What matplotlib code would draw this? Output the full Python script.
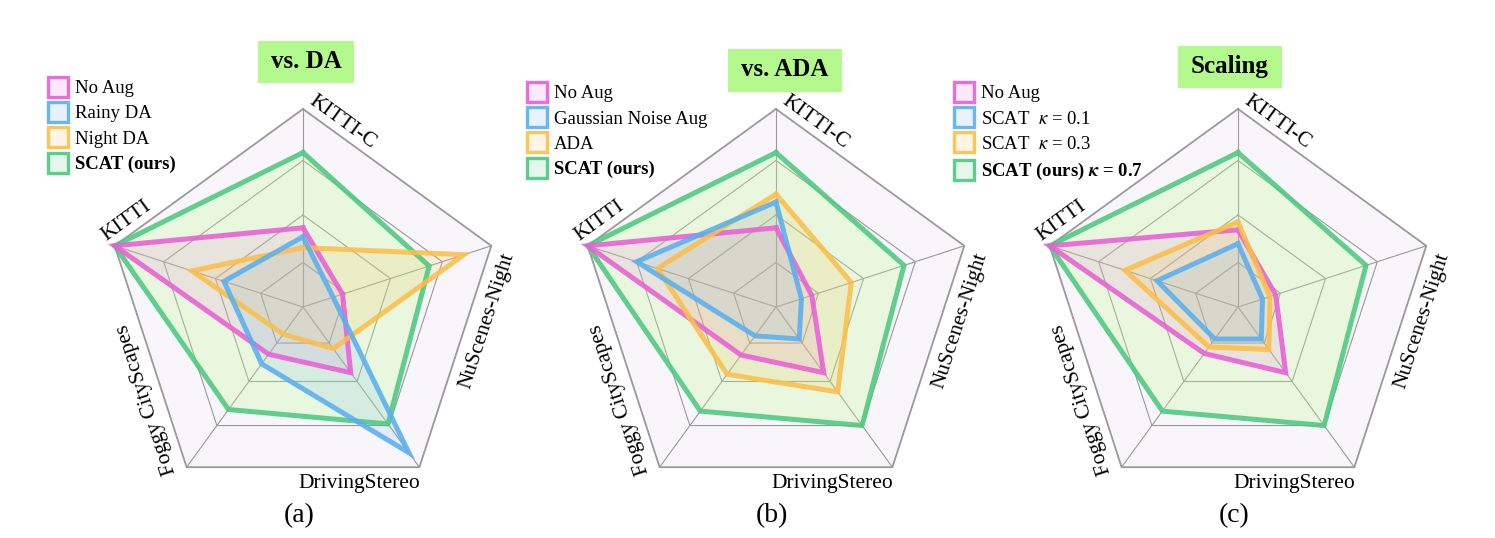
import numpy as np
import matplotlib
matplotlib.use("Agg")
import matplotlib.pyplot as plt
from matplotlib.lines import Line2D
from matplotlib.patches import Rectangle
from matplotlib.colors import to_rgba

plt.rcParams['font.family'] = ['Liberation Serif', 'DejaVu Serif']
plt.rcParams['mathtext.fontset'] = 'stix'

# axis order goes counter-clockwise starting at the top
axis_names = ["KITTI-C", "KITTI", "Foggy CityScapes", "DrivingStereo", "NuScenes-Night"]
axis_angles = [90, 162, 234, 306, 18]
ring_levels = [0.225, 0.465, 0.74, 1.0]

# normalised scores (fraction of the outer ring), same order as axis_names
# (a) vs. DA
noaug_a = [0.40, 1.0, 0.295, 0.41, 0.21]
rainy_a = [0.355, 0.42, 0.355, 0.91, 0.16]
night_a = [0.30, 0.59, 0.17, 0.26, 0.855]
scat_a = [0.78, 1.0, 0.64, 0.73, 0.67]
# (b) vs. ADA
noaug_b = [0.40, 1.0, 0.30, 0.41, 0.19]
gauss_b = [0.53, 0.74, 0.18, 0.20, 0.135]
ada_b = [0.57, 0.63, 0.42, 0.53, 0.40]
scat_b = [0.78, 1.0, 0.65, 0.74, 0.68]
# (c) scaling
noaug_c = [0.39, 1.0, 0.29, 0.41, 0.20]
k01_c = [0.32, 0.43, 0.20, 0.20, 0.13]
k03_c = [0.43, 0.60, 0.25, 0.265, 0.17]
scat_c = [0.78, 1.0, 0.65, 0.74, 0.68]

PINK = "#e95fd6"
BLUE = "#5aaff0"
ORANGE = "#fcbf4a"
GREEN = "#4cc97f"
# fill colours (green area in the original is a light yellow-green)
FILLS = {PINK: (PINK, 0.13), BLUE: (BLUE, 0.13), ORANGE: (ORANGE, 0.15), GREEN: ("#bdfb90", 0.27)}

W, H = 1495, 538
R = 198.0  # outer radius in pixels
CY = 307   # radar centre, pixels from top

fig = plt.figure(figsize=(W / 100, H / 100), dpi=100)


def px_rect(x0, y0, w, h):
    # pixel box (from top-left) -> figure fraction
    return [x0 / W, 1 - (y0 + h) / H, w / W, h / H]


def polar_xy(vals):
    th = np.deg2rad(axis_angles)
    v = np.asarray(vals)
    x = v * np.cos(th)
    y = v * np.sin(th)
    return np.append(x, x[0]), np.append(y, y[0])


def draw_radar(cx, series, panel):
    ax = fig.add_axes(px_rect(cx - 260, 0, 520, H))
    ax.set_xlim(-260 / R, 260 / R)
    ax.set_ylim(-(H - CY) / R, CY / R)
    ax.axis('off')

    ox, oy = polar_xy([1.0] * 5)
    ax.fill(ox, oy, color="#f8f6fb", zorder=0)
    for lv in ring_levels:
        gx, gy = polar_xy([lv] * 5)
        ax.plot(gx, gy, color="#9a9a9a", lw=1.3 if lv == 1.0 else 0.8, zorder=1)
    for a in axis_angles:
        t = np.deg2rad(a)
        ax.plot([0, np.cos(t)], [0, np.sin(t)], color="#9a9a9a", lw=0.8, zorder=1)

    for z, (vals, col) in enumerate(series):
        x, y = polar_xy(vals)
        fc, fa = FILLS[col]
        ax.fill(x, y, color=fc, alpha=fa, lw=0, zorder=2 + z)
        ax.plot(x, y, color=col, alpha=0.88, lw=3.6, solid_joinstyle='miter', zorder=10 + z)

    fs = 15.5
    ax.text(0.2, 0.935, "KITTI-C", rotation=-36, ha='center', va='center', fontsize=fs)
    ax.text(-0.89, 0.435, "KITTI", rotation=36, ha='center', va='center', fontsize=fs)
    ax.text(-0.79, -0.465, "Foggy CityScapes", rotation=108, ha='center', va='center', fontsize=fs)
    ax.text(0.285, -0.89, "DrivingStereo", ha='center', va='center', fontsize=fs)
    ax.text(0.93, -0.07, "NuScenes-Night", rotation=72, ha='center', va='center', fontsize=fs)
    ax.text(-0.02, -1.055, panel, ha='center', va='center', fontsize=20)
    return ax


def title_box(cx, cy, w, h, label):
    r = px_rect(cx - w / 2, cy - h / 2, w, h)
    fig.add_artist(Rectangle((r[0], r[1]), r[2], r[3], transform=fig.transFigure,
                             facecolor="#b3f98e", edgecolor='none'))
    fig.text(cx / W, 1 - cy / H, label, ha='center', va='center', fontsize=18, fontweight='bold')


def add_legend(ax, x0, y0, labels):
    cols = [PINK, BLUE, ORANGE, GREEN]
    handles = [Line2D([], [], ls='none', marker='s', markersize=14, markeredgewidth=2.4,
                      markeredgecolor=to_rgba(c, 0.9), markerfacecolor=to_rgba(c, 0.14))
               for c in cols]
    leg = ax.legend(handles, labels, loc='upper left', bbox_to_anchor=(x0 / W, 1 - y0 / H),
                    bbox_transform=fig.transFigure, frameon=False, fontsize=13.5,
                    borderpad=0, borderaxespad=0, handlelength=1.26, handletextpad=0.29,
                    labelspacing=0.44)
    leg.get_texts()[-1].set_fontweight('bold')


ax_a = draw_radar(303, [(scat_a, GREEN), (noaug_a, PINK), (night_a, ORANGE), (rainy_a, BLUE)], "(a)")
ax_b = draw_radar(776, [(scat_b, GREEN), (noaug_b, PINK), (ada_b, ORANGE), (gauss_b, BLUE)], "(b)")
ax_c = draw_radar(1238, [(scat_c, GREEN), (noaug_c, PINK), (k03_c, ORANGE), (k01_c, BLUE)], "(c)")

title_box(306, 62, 96, 42, "vs. DA")
title_box(785, 70, 115, 43, "vs. ADA")
title_box(1230, 67, 104, 42, "Scaling")

add_legend(ax_a, 46, 80, ["No Aug", "Rainy DA", "Night DA", "SCAT (ours)"])
add_legend(ax_b, 525, 85, ["No Aug", "Gaussian Noise Aug", "ADA", "SCAT (ours)"])
add_legend(ax_c, 952, 85, ["No Aug", r"SCAT  $\kappa$ = 0.1", r"SCAT  $\kappa$ = 0.3",
                           r"SCAT (ours) $\boldsymbol{\kappa}$ = 0.7"])

fig.savefig("out.png", dpi=100)
